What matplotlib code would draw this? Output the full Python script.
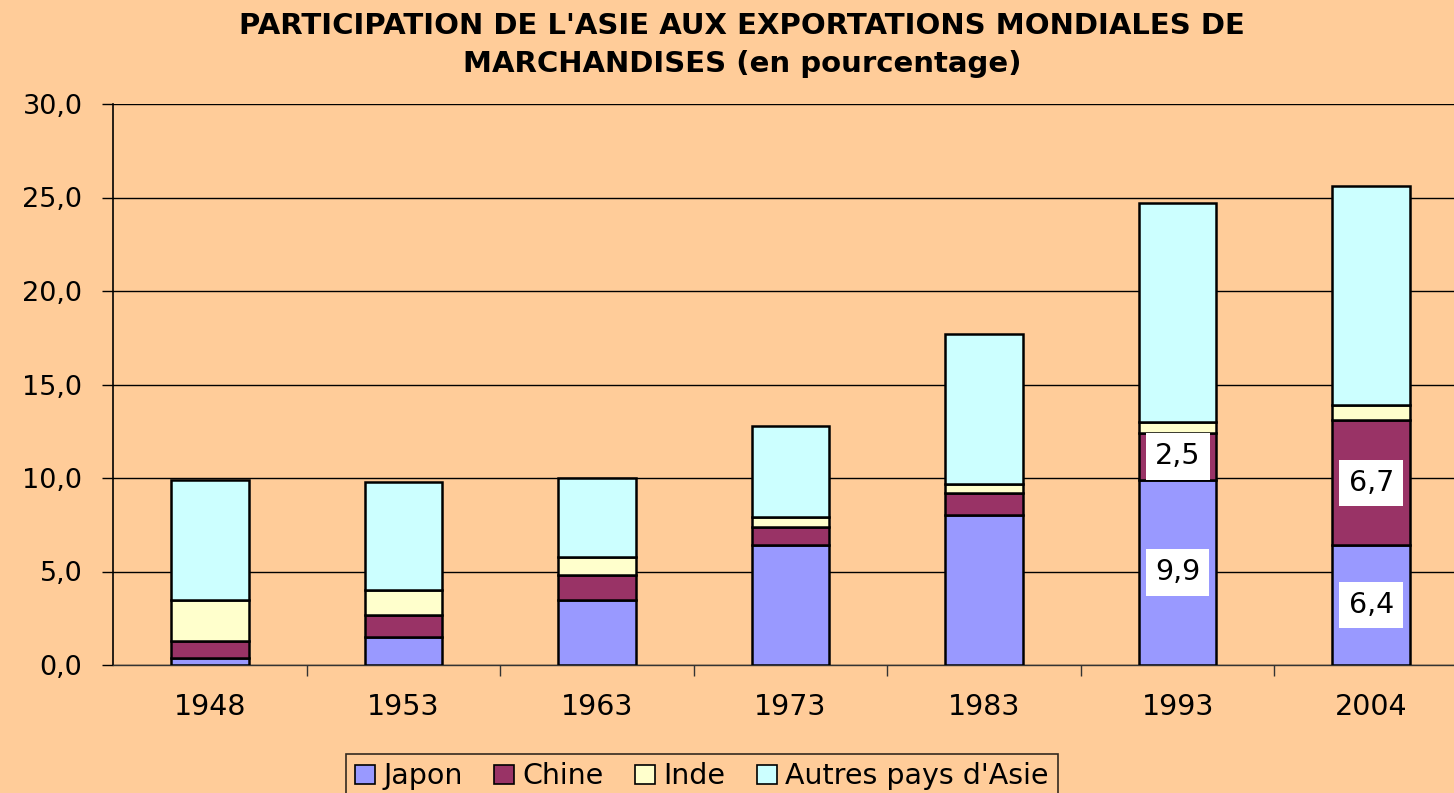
import numpy as np
import matplotlib
matplotlib.use('Agg')
import matplotlib.pyplot as plt
from matplotlib.ticker import FixedLocator, FuncFormatter

annees = ['1948', '1953', '1963', '1973', '1983', '1993', '2004']
japon = [0.4, 1.5, 3.5, 6.4, 8.0, 9.9, 6.4]
chine = [0.9, 1.2, 1.3, 1.0, 1.2, 2.5, 6.7]
inde = [2.2, 1.3, 1.0, 0.5, 0.5, 0.6, 0.8]
autres = [6.4, 5.8, 4.2, 4.9, 8.0, 11.7, 11.7]
series = ['Japon', 'Chine', 'Inde', "Autres pays d'Asie"]
couleurs = ['#9999FF', '#993366', '#FFFFCC', '#CCFFFF']

fond = '#FFCC99'
plt.rcParams['font.family'] = ['DejaVu Sans']

fig = plt.figure(figsize=(14.54, 7.93), dpi=100, facecolor=fond)
ax = fig.add_axes([113/1454, 1 - 665/793, (1468 - 113)/1454, (665 - 104)/793])
ax.set_facecolor(fond)

x = np.arange(len(annees))
bas = np.zeros(len(annees))
barres = []
for vals, nom, c in zip([japon, chine, inde, autres], series, couleurs):
    b = ax.bar(x, vals, 0.4, bottom=bas, color=c, edgecolor='black',
               linewidth=1.8, label=nom, zorder=3)
    barres.append(b)
    bas = bas + np.array(vals)

# etiquettes de donnees (1993 et 2004 seulement)
for serie, vals in [(0, japon), (1, chine)]:
    base = np.zeros(len(annees)) if serie == 0 else np.array(japon)
    for i in [5, 6]:
        v = vals[i]
        ax.text(x[i], base[i] + v / 2, ('%.1f' % v).replace('.', ','),
                ha='center', va='center', fontsize=20.5, zorder=5,
                bbox=dict(facecolor='white', edgecolor='none', pad=6.5))

ax.set_xlim(-0.5, 6.5)
ax.set_ylim(0, 30)
ax.set_yticks(np.arange(0, 31, 5))
ax.yaxis.set_major_formatter(FuncFormatter(lambda v, p: ('%.1f' % v).replace('.', ',')))
ax.set_xticks(x)
ax.set_xticklabels(annees)
ax.xaxis.set_minor_locator(FixedLocator(np.arange(0.5, 6.5, 1)))
ax.tick_params(axis='x', which='major', length=0, pad=20, labelsize=20.5)
ax.tick_params(axis='x', which='minor', length=8, width=1, color='#333333', direction='out')
ax.tick_params(axis='y', length=8, width=1, direction='out', labelsize=19.5, pad=14)

ax.grid(axis='y', color='black', linewidth=1.0, zorder=0)
ax.set_axisbelow(True)
for s in ['top', 'right']:
    ax.spines[s].set_visible(False)
ax.spines['left'].set_linewidth(1.2)
ax.spines['bottom'].set_linewidth(1.0)
ax.spines['bottom'].set_color('#333333')

fig.text(742/1454, 1 - 26/793, "PARTICIPATION DE L'ASIE AUX EXPORTATIONS MONDIALES DE",
         ha='center', va='center', fontsize=21, fontweight='bold')
fig.text(742/1454, 1 - 64/793, "MARCHANDISES (en pourcentage)",
         ha='center', va='center', fontsize=21, fontweight='bold')

leg = fig.legend(handles=barres, labels=series, loc='lower center', ncol=4,
                 bbox_to_anchor=(702/1454, -6/793), frameon=True, fancybox=False,
                 edgecolor='black', facecolor=fond, fontsize=20.5,
                 handlelength=0.7, handleheight=0.7, handletextpad=0.3, columnspacing=1.1,
                 borderpad=0.3, borderaxespad=0)
leg.get_frame().set_linewidth(1.2)
for h in leg.legend_handles:
    h.set_linewidth(1.2)

fig.savefig('out.png', dpi=100, facecolor=fond)
